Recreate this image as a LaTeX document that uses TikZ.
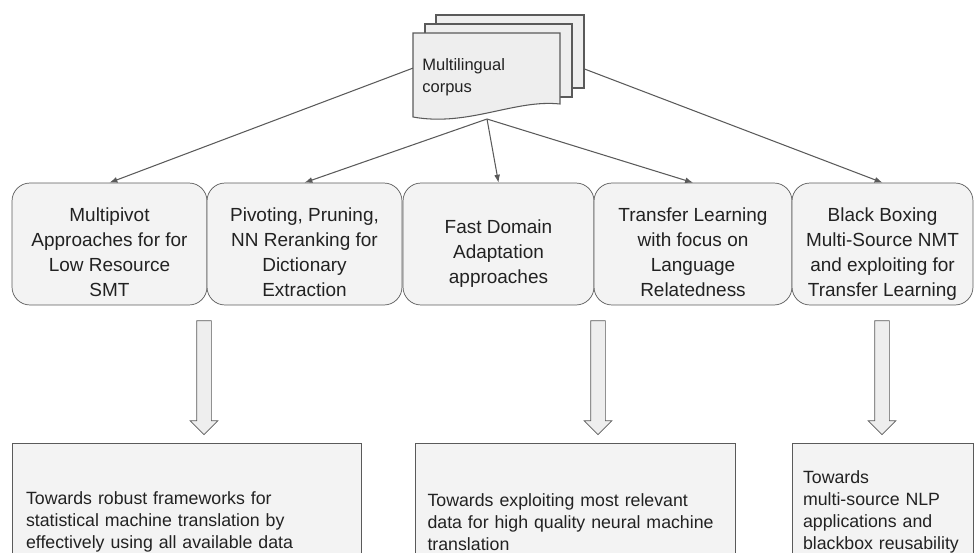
\documentclass[tikz,border=0pt]{standalone}
\usepackage{fontspec}
\setmainfont{Liberation Sans}
\usepackage{tikz}
\usetikzlibrary{arrows.meta, positioning, shapes.arrows}
\definecolor{boxfill}{HTML}{F3F3F3}
\definecolor{docfill}{HTML}{EEEEEE}
\definecolor{edgegray}{HTML}{5A5A5A}
\definecolor{inkgray}{HTML}{222222}
% first-line strut that pushes the topic text a little down
\newcommand{\topstrut}{\rule{0pt}{19.6pt}}

\begin{document}
\begin{tikzpicture}[x=0.02cm, y=-0.02cm]

        % Setup the styles
        \tikzset{topic style/.style={draw=edgegray,
                                     fill=boxfill,
                                     rounded corners=0.36cm,
                                     minimum height=2.44cm,
                                     inner sep=0pt,
                                     align=center,
                                     text=inkgray,
                                     font=\fontsize{10.8}{14.2}\selectfont,
                                     execute at end node={\rule[-3pt]{0pt}{3pt}}},
                 goal style/.style={draw=edgegray,
                                    fill=boxfill,
                                    inner xsep=0.28cm,
                                    inner ysep=0pt,
                                    align=left,
                                    text=inkgray,
                                    font=\fontsize{10.1}{12.6}\selectfont},
                 page style/.style={draw=edgegray,
                                    fill=docfill,
                                    line width=0.6pt},
                 fat arrow/.style={single arrow,
                                   draw=edgegray,
                                   fill=docfill,
                                   inner sep=0.14cm,
                                   minimum height=2.28cm,
                                   single arrow head extend=0.13cm,
                                   shape border rotate=270}}

        \clip (0, 0) rectangle (976, 552);

        % Draw the topic boxes
        \node[topic style, minimum width=3.9cm]  at (109.5, 244) (multipivot) {\topstrut Multipivot\\Approaches for for\\Low Resource\\SMT};
        \node[topic style, minimum width=3.9cm]  at (304.5, 244) (pivoting)   {\topstrut Pivoting, Pruning,\\NN Reranking for\\Dictionary\\Extraction};
        \node[topic style, minimum width=3.82cm] at (498.5, 244) (domain)     {\topstrut Fast Domain\\Adaptation\\approaches};
        \node[topic style, minimum width=3.96cm] at (693, 244)   (transfer)   {\topstrut Transfer Learning\\with focus on\\Language\\Relatedness};
        \node[topic style, minimum width=3.62cm] at (882.5, 244) (blackbox)   {\topstrut Black Boxing\\Multi-Source NMT\\and exploiting for\\Transfer Learning};

        % Draw the goal boxes
        \node[goal style, text width=6.42cm, minimum height=3.16cm] at (186.5, 522) (smtgoal) {Towards robust frameworks for\\statistical machine translation by\\effectively using all available data};
        \node[goal style, text width=5.9cm, inner xsep=0.25cm, minimum height=3.16cm] at (575, 522) (nmtgoal) {Towards exploiting most relevant\\data for high quality neural machine\\translation};
        \node[goal style, text width=3.18cm, inner xsep=0.22cm, minimum height=2.76cm] at (882.5, 512) (nlpgoal) {Towards\\multi-source NLP\\applications and\\blackbox reusability};

        % Block arrows from topics to goals
        \node[fat arrow] at (204, 374) (arrleft)  {};
        \node[fat arrow] at (598, 374) (arrmid)   {};
        \node[fat arrow] at (882, 374) (arrright) {};

        % Connect the corpus with the topics
        \coordinate (hub)    at (487, 119);
        \coordinate (hubtop) at (498, 36);
        \draw[edgegray,
              line width=0.6pt,
              -{Latex[length=4.5pt, width=3.4pt]}]
            (hubtop) edge (multipivot.north)
            (hub)    edge (pivoting.north)
            (hub)    edge (domain.north)
            (hub)    edge (transfer.north)
            (hubtop) edge (blackbox.north);

        % Draw the corpus (three pages)
        \filldraw[page style] (436, 15) rectangle (584, 88);
        \filldraw[page style] (425, 24) rectangle (572, 97);
        \filldraw[page style] (413, 33) -- (560, 33) -- (560, 104)
            .. controls (515, 99) and (468, 127) .. (413, 117) -- cycle;
        \node[anchor=west, align=left, text=inkgray, inner sep=0pt,
              font=\fontsize{9.4}{12.5}\selectfont] at (422, 77) (corpus) {Multilingual\\corpus};

\end{tikzpicture}
\end{document}
